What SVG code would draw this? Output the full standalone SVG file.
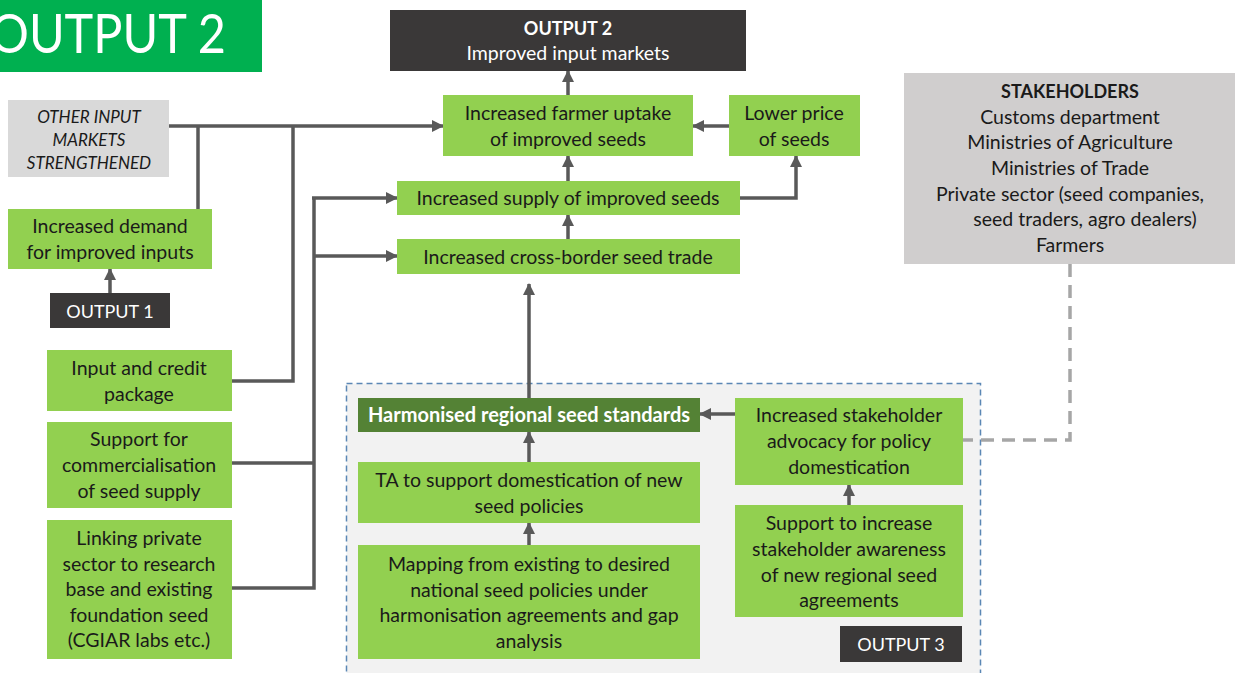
<svg xmlns="http://www.w3.org/2000/svg" width="1236" height="673" viewBox="0 0 1236 673">
<style>
.g{fill:#92D050}
.dk{fill:#3A3838}
.t{font-family:Lato,"Liberation Sans",sans-serif;font-size:19.5px;fill:#1a1a1a;text-anchor:middle}
.s{font-size:18px}
.i{font-size:17px;font-style:italic}
.h{font-size:20px}
.w{fill:#ffffff}
.b{font-weight:bold}
.c{fill:none;stroke:#595959;stroke-width:3.5}
.a{marker-end:url(#ah)}
</style>
<defs>
<marker id="ah" markerUnits="userSpaceOnUse" markerWidth="12" markerHeight="12" viewBox="0 0 12 12" refX="11" refY="6" orient="auto">
<path d="M0,0 L12,6 L0,12 z" fill="#595959"/>
</marker>
</defs>
<rect width="1236" height="673" fill="#ffffff"/>

<g id="title">
<rect x="0" y="0" width="262" height="72" fill="#00B050"/>
<text x="-10" y="53" font-family="Lato,'Liberation Sans',sans-serif" font-size="54" fill="#ffffff" textLength="236" lengthAdjust="spacingAndGlyphs">OUTPUT 2</text>
</g>

<g id="output3-area">
<rect x="346.5" y="383.5" width="634" height="300" fill="#F2F2F2" stroke="#5B87B5" stroke-width="1.5" stroke-dasharray="6,4"/>
</g>

<g id="connectors">
<path class="c a" d="M169,126 H443"/>
<path class="c" d="M198,126 V209"/>
<path class="c" d="M293,126 V381 H232"/>
<path class="c" d="M232,463 H314"/>
<path class="c" d="M232,588 H314 V198"/>
<path class="c a" d="M312,198 H397"/>
<path class="c a" d="M314,256 H397"/>
<path class="c a" d="M110,293 V269"/>
<path class="c a" d="M568,95 V71"/>
<path class="c a" d="M568,181 V156"/>
<path class="c a" d="M568,239 V215"/>
<path class="c a" d="M740,198 H796 V156"/>
<path class="c a" d="M729,126 H693"/>
<path class="c a" d="M529,398 V284"/>
<path class="c a" d="M529,462 V432"/>
<path class="c a" d="M529,545 V523"/>
<path class="c a" d="M735,414 H700"/>
<path class="c a" d="M849,505 V485"/>
<path d="M1070,264 V440 H963" fill="none" stroke="#A6A6A6" stroke-width="3.5" stroke-dasharray="13,8"/>
</g>

<g id="output2">
<rect class="dk" x="390" y="10" width="356" height="61"/>
<text class="t s w b" x="568" y="35">OUTPUT 2</text>
<text class="t w" x="568" y="60">Improved input markets</text>
</g>

<g id="uptake">
<rect class="g" x="443" y="95" width="250" height="61"/>
<text class="t" x="568" y="120">Increased farmer uptake</text>
<text class="t" x="568" y="146">of improved seeds</text>
</g>

<g id="lowerprice">
<rect class="g" x="729" y="95" width="131" height="61"/>
<text class="t" x="794" y="120">Lower price</text>
<text class="t" x="794" y="146">of seeds</text>
</g>

<g id="supply">
<rect class="g" x="397" y="181" width="343" height="34"/>
<text class="t" x="568" y="205">Increased supply of improved seeds</text>
</g>

<g id="crossborder">
<rect class="g" x="397" y="239" width="343" height="35"/>
<text class="t" x="568" y="264">Increased cross-border seed trade</text>
</g>

<g id="otherinput">
<rect x="8" y="100" width="161" height="77" fill="#D9D9D9"/>
<text class="t i" x="89" y="123">OTHER INPUT</text>
<text class="t i" x="89" y="146">MARKETS</text>
<text class="t i" x="89" y="169">STRENGTHENED</text>
</g>

<g id="demand">
<rect class="g" x="8" y="209" width="204" height="60"/>
<text class="t" x="110" y="233">Increased demand</text>
<text class="t" x="110" y="259">for improved inputs</text>
</g>

<g id="output1">
<rect class="dk" x="50" y="293" width="120" height="35"/>
<text class="t s w" x="110" y="318">OUTPUT 1</text>
</g>

<g id="credit">
<rect class="g" x="47" y="350" width="185" height="61"/>
<text class="t" x="139" y="375">Input and credit</text>
<text class="t" x="139" y="401">package</text>
</g>

<g id="commercial">
<rect class="g" x="47" y="422" width="185" height="86"/>
<text class="t" x="139" y="446">Support for</text>
<text class="t" x="139" y="472">commercialisation</text>
<text class="t" x="139" y="498">of seed supply</text>
</g>

<g id="linking">
<rect class="g" x="47" y="520" width="185" height="139"/>
<text class="t" x="139" y="545">Linking private</text>
<text class="t" x="139" y="571">sector to research</text>
<text class="t" x="139" y="596">base and existing</text>
<text class="t" x="139" y="622">foundation seed</text>
<text class="t" x="139" y="647">(CGIAR labs etc.)</text>
</g>

<g id="stakeholders">
<rect x="904" y="73" width="331" height="191" fill="#D0CECE"/>
<text class="t s b" x="1070" y="98">STAKEHOLDERS</text>
<text class="t" x="1070" y="124">Customs department</text>
<text class="t" x="1070" y="149">Ministries of Agriculture</text>
<text class="t" x="1070" y="175">Ministries of Trade</text>
<text class="t" x="1070" y="201">Private sector (seed companies,</text>
<text class="t" x="1085" y="226">seed traders, agro dealers)</text>
<text class="t" x="1070" y="252">Farmers</text>
</g>

<g id="harmonised">
<rect x="358" y="398" width="342" height="34" fill="#548235"/>
<text class="t h w b" x="529" y="422">Harmonised regional seed standards</text>
</g>

<g id="ta">
<rect class="g" x="358" y="462" width="342" height="61"/>
<text class="t" x="529" y="487">TA to support domestication of new</text>
<text class="t" x="529" y="513">seed policies</text>
</g>

<g id="mapping">
<rect class="g" x="358" y="545" width="342" height="114"/>
<text class="t" x="529" y="571">Mapping from existing to desired</text>
<text class="t" x="529" y="597">national seed policies under</text>
<text class="t" x="529" y="622">harmonisation agreements and gap</text>
<text class="t" x="529" y="648">analysis</text>
</g>

<g id="advocacy">
<rect class="g" x="735" y="398" width="228" height="87"/>
<text class="t" x="849" y="422">Increased stakeholder</text>
<text class="t" x="849" y="448">advocacy for policy</text>
<text class="t" x="849" y="474">domestication</text>
</g>

<g id="awareness">
<rect class="g" x="735" y="505" width="228" height="112"/>
<text class="t" x="849" y="530">Support to increase</text>
<text class="t" x="849" y="556">stakeholder awareness</text>
<text class="t" x="849" y="582">of new regional seed</text>
<text class="t" x="849" y="607">agreements</text>
</g>

<g id="output3">
<rect class="dk" x="840" y="626" width="122" height="36"/>
<text class="t s w" x="901" y="651">OUTPUT 3</text>
</g>
</svg>
